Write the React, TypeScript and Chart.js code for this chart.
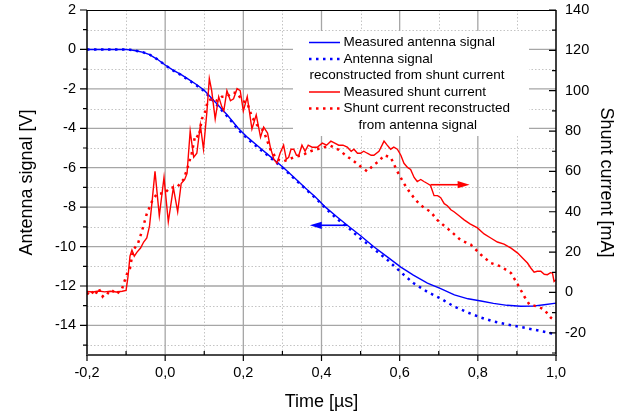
import React, { useEffect, useRef } from "react";
import { Chart, registerables } from "chart.js";

Chart.register(...registerables);

// ---------- Data ----------
const antennaT = [
  -0.2, -0.15, -0.1, -0.09, -0.075, -0.056, -0.04, -0.02, 0, 0.02, 0.04, 0.06, 0.08, 0.1, 0.12, 0.14,
  0.16, 0.187, 0.21, 0.24, 0.27, 0.303, 0.33, 0.36, 0.385, 0.41, 0.44, 0.466, 0.5, 0.533, 0.57, 0.603,
  0.635, 0.671, 0.705, 0.74, 0.775, 0.808, 0.84, 0.875, 0.91, 0.94, 0.97, 1.0,
];
const antennaMeasured = [
  0, 0, 0, -0.02, -0.07, -0.15, -0.26, -0.5, -0.79, -1.05, -1.27, -1.52, -1.78, -2.07, -2.5, -2.92,
  -3.35, -4.0, -4.45, -4.95, -5.45, -6.0, -6.5, -7.05, -7.5, -8.0, -8.5, -8.92, -9.45, -10.0, -10.55, -11.04,
  -11.45, -11.85, -12.13, -12.45, -12.65, -12.76, -12.88, -12.98, -13.03, -13.02, -12.95, -12.87,
];
const antennaReconstructed = [
  0, 0, 0, -0.02, -0.07, -0.15, -0.26, -0.5, -0.8, -1.06, -1.29, -1.55, -1.82, -2.12, -2.55, -2.98,
  -3.42, -4.07, -4.52, -5.02, -5.5, -6.05, -6.55, -7.1, -7.55, -8.05, -8.6, -9.0, -9.6, -10.1, -10.7, -11.3,
  -11.85, -12.3, -12.64, -13.05, -13.35, -13.6, -13.8, -13.95, -14.08, -14.2, -14.32, -14.45,
];

const shuntMeasuredT = [
  -0.2, -0.185, -0.17, -0.155, -0.14, -0.125, -0.11, -0.1, -0.095, -0.09, -0.085, -0.079, -0.072, -0.063,
  -0.055, -0.047, -0.04, -0.034, -0.026, -0.015, -0.003, 0.008, 0.021, 0.032, 0.041, 0.05, 0.056, 0.064,
  0.073, 0.081, 0.09, 0.098, 0.107, 0.113, 0.119, 0.128, 0.137, 0.145, 0.15, 0.158, 0.167, 0.175, 0.184,
  0.192, 0.2, 0.21, 0.222, 0.233, 0.244, 0.252, 0.262, 0.269, 0.278, 0.286, 0.294, 0.303, 0.31, 0.316,
  0.322, 0.329, 0.336, 0.342, 0.35, 0.358, 0.366, 0.376, 0.389, 0.402, 0.413, 0.424, 0.434, 0.444, 0.455,
  0.466, 0.476, 0.483, 0.492, 0.5, 0.508, 0.517, 0.527, 0.534, 0.547, 0.555, 0.56, 0.568, 0.577, 0.585,
  0.594, 0.603, 0.611, 0.62, 0.628, 0.637, 0.645, 0.654, 0.662, 0.671, 0.679, 0.688, 0.697, 0.705, 0.714,
  0.722, 0.731, 0.739, 0.752, 0.765, 0.78, 0.799, 0.816, 0.833, 0.85, 0.867, 0.885, 0.902, 0.915, 0.927,
  0.936, 0.944, 0.952, 0.961, 0.97, 0.978, 0.986, 0.991, 0.995, 1.0,
];
const shuntMeasured = [
  0.5, 0.2, 0.7, 0.3, 0.6, 0.2, 0.6, 1, 8, 18, 21, 18, 20, 22,
  25, 27, 33, 44, 60, 38, 57, 35, 52, 40, 54, 56, 59, 80,
  67, 69, 83, 71, 90, 106, 100, 86, 97, 92, 90, 100, 95, 96, 101,
  100, 90, 97, 81, 88, 77, 82, 79, 72, 66, 64, 69, 73, 66, 67,
  71, 71, 68, 68, 73, 70, 73, 72, 72, 74, 73, 75, 74, 73, 73,
  72, 70, 71, 69, 69, 70, 69, 68, 68, 70, 73, 75, 73, 71, 72,
  71, 68, 64, 62, 61, 57, 55, 56, 55, 54, 53, 48, 48, 47, 44,
  43, 41, 40, 38, 36, 34, 32, 29, 27, 25, 24, 22, 19.5, 17, 14.6,
  12, 10, 10.5, 10.5, 9, 8.8, 9.8, 9.6, 5.5, 6.3,
];

const shuntReconT = [
  -0.2, -0.19, -0.18, -0.17, -0.16, -0.15, -0.14, -0.13, -0.12, -0.11, -0.105, -0.098, -0.09, -0.082,
  -0.07, -0.06, -0.047, -0.034, -0.021, -0.003, 0.013, 0.03, 0.047, 0.056, 0.068, 0.077, 0.086, 0.094,
  0.103, 0.109, 0.12, 0.133, 0.145, 0.158, 0.171, 0.184, 0.197, 0.21, 0.222, 0.235, 0.252, 0.269, 0.286,
  0.303, 0.329, 0.35, 0.372, 0.406, 0.423, 0.444, 0.466, 0.483, 0.5, 0.517, 0.534, 0.547, 0.56, 0.577,
  0.594, 0.611, 0.628, 0.645, 0.662, 0.679, 0.696, 0.714, 0.73, 0.756, 0.782, 0.808, 0.833, 0.859, 0.885,
  0.902, 0.919, 0.932, 0.953, 0.97, 0.987, 1.0,
];
const shuntReconstructed = [
  -1, 1, -1.5, 2, -2, 0, -1, 1.5, 0, 2, 5, 9, 12, 21,
  24, 30, 39, 45, 49, 49, 52, 52, 56, 61, 69, 78, 77, 86,
  90, 95, 96, 95, 97, 97, 99, 99, 95, 94, 87, 83, 80, 71, 66,
  65, 67, 68, 70, 72, 72.7, 70.7, 67.4, 65, 62.4, 60, 63.3, 65, 68, 67,
  60, 54, 49, 45, 42, 40, 36, 33, 30.5, 26, 23.7, 18.7, 14.6, 12.9, 9.6,
  4, -2, -6, -7, -8.5, -12.6, -14.3,
];

// ---------- Axes ----------
const xTicks = [-0.2, 0, 0.2, 0.4, 0.6, 0.8, 1.0];
const xMinorTicks = [-0.1, 0.1, 0.3, 0.5, 0.7, 0.9];
const leftTicks = [2, 0, -2, -4, -6, -8, -10, -12, -14];
const leftMinorTicks = [1, -1, -3, -5, -7, -9, -11, -13, -15];
const rightTicks = [140, 120, 100, 80, 60, 40, 20, 0, -20];
const rightMinorTicks = [130, 110, 90, 70, 50, 30, 10, -10, -30];
const xRange = [-0.2, 1.0];
const leftRange = [-15.5, 2];
const rightRange = [-31, 140];

const legendItems = [
  { lines: ["Measured antenna signal"], color: "#0000ff", dotted: false },
  { lines: ["Antenna signal", "reconstructed from shunt current"], color: "#0000ff", dotted: true },
  { lines: ["Measured shunt current"], color: "#ff0000", dotted: false },
  { lines: ["Shunt current reconstructed", "from antenna signal"], color: "#ff0000", dotted: true },
];

// arrows in data units
const redArrow = { from: 0.679, to: 0.779, y: 53.4, axis: "yR", color: "#ff0000" };
const blueArrow = { from: 0.466, to: 0.37, y: -8.92, axis: "yL", color: "#0000ff" };

const FONT = "'Liberation Sans', Arial, sans-serif";

const fmtX = (v: number) => (Math.abs(v) < 1e-9 ? 0 : v).toFixed(1).replace(".", ",");

const pts = (xs: number[], ys: number[]) => xs.map((x, i) => ({ x, y: ys[i] }));

const decorPlugin = {
  id: "decor",
  beforeDatasetsDraw(chart: any) {
    const { ctx, chartArea: a, scales } = chart;
    const x = scales.x, yL = scales.yL;
    ctx.save();
    ctx.strokeStyle = "#c4c4c4";
    ctx.lineWidth = 1;
    ctx.setLineDash([1.5, 2]);
    ctx.beginPath();
    xMinorTicks.forEach((v) => {
      const px = Math.round(x.getPixelForValue(v)) + 0.5;
      ctx.moveTo(px, a.top);
      ctx.lineTo(px, a.bottom);
    });
    leftMinorTicks.forEach((v) => {
      const py = Math.round(yL.getPixelForValue(v)) + 0.5;
      if (py > a.bottom || py < a.top) return;
      ctx.moveTo(a.left, py);
      ctx.lineTo(a.right, py);
    });
    ctx.stroke();
    ctx.setLineDash([]);
    ctx.strokeStyle = "#a6a6a6";
    ctx.lineWidth = 1.3;
    ctx.beginPath();
    xTicks.forEach((v) => {
      const px = x.getPixelForValue(v);
      if (px <= a.left + 1 || px >= a.right - 1) return;
      ctx.moveTo(px, a.top);
      ctx.lineTo(px, a.bottom);
    });
    leftTicks.forEach((v) => {
      const py = yL.getPixelForValue(v);
      if (py <= a.top + 1 || py >= a.bottom - 1) return;
      ctx.moveTo(a.left, py);
      ctx.lineTo(a.right, py);
    });
    ctx.stroke();
    ctx.restore();
  },
  afterDatasetsDraw(chart: any) {
    const { ctx, chartArea: a, scales } = chart;
    const x = scales.x, yL = scales.yL, yR = scales.yR;
    ctx.save();
    ctx.strokeStyle = "#000";
    ctx.lineWidth = 1;
    ctx.beginPath();
    ctx.moveTo(a.left, a.top + 0.5);
    ctx.lineTo(a.right, a.top + 0.5);
    ctx.stroke();
    ctx.lineWidth = 1.5;
    ctx.beginPath();
    ctx.moveTo(a.left, a.top);
    ctx.lineTo(a.left, a.bottom);
    ctx.moveTo(a.right, a.top);
    ctx.lineTo(a.right, a.bottom);
    ctx.stroke();
    ctx.strokeStyle = "#4a4a4a";
    ctx.lineWidth = 2;
    ctx.beginPath();
    ctx.moveTo(a.left - 1, a.bottom);
    ctx.lineTo(a.right + 1, a.bottom);
    ctx.stroke();
    ctx.strokeStyle = "#000";
    ctx.lineWidth = 1.2;
    ctx.beginPath();
    leftTicks.forEach((v) => {
      const py = yL.getPixelForValue(v);
      ctx.moveTo(a.left, py);
      ctx.lineTo(a.left - 7, py);
    });
    leftMinorTicks.forEach((v) => {
      const py = yL.getPixelForValue(v);
      if (py > a.bottom) return;
      ctx.moveTo(a.left, py);
      ctx.lineTo(a.left - 4, py);
    });
    rightTicks.forEach((v) => {
      const py = yR.getPixelForValue(v);
      ctx.moveTo(a.right, py);
      ctx.lineTo(a.right - 7, py);
    });
    rightMinorTicks.forEach((v) => {
      const py = yR.getPixelForValue(v);
      if (py > a.bottom) return;
      ctx.moveTo(a.right, py);
      ctx.lineTo(a.right - 4, py);
    });
    xTicks.forEach((v) => {
      const px = x.getPixelForValue(v);
      ctx.moveTo(px, a.bottom);
      ctx.lineTo(px, a.bottom + 6);
    });
    xMinorTicks.forEach((v) => {
      const px = x.getPixelForValue(v);
      ctx.moveTo(px, a.bottom);
      ctx.lineTo(px, a.bottom - 4);
    });
    ctx.stroke();

    [redArrow, blueArrow].forEach((ar) => {
      const ys = scales[ar.axis];
      const x1 = x.getPixelForValue(ar.from);
      const x2 = x.getPixelForValue(ar.to);
      const py = ys.getPixelForValue(ar.y);
      const dir = Math.sign(x2 - x1);
      ctx.strokeStyle = ar.color;
      ctx.fillStyle = ar.color;
      ctx.lineWidth = 1.6;
      ctx.beginPath();
      ctx.moveTo(x1, py);
      ctx.lineTo(x2 - dir * 8, py);
      ctx.stroke();
      ctx.beginPath();
      ctx.moveTo(x2, py);
      ctx.lineTo(x2 - dir * 12, py - 3.6);
      ctx.lineTo(x2 - dir * 12, py + 3.6);
      ctx.closePath();
      ctx.fill();
    });

    const lx = 293, ly = 31, lw = 236, lh = 105;
    ctx.fillStyle = "#ffffff";
    ctx.fillRect(lx, ly, lw, lh);
    ctx.font = `13.5px ${FONT}`;
    ctx.textBaseline = "middle";
    ctx.textAlign = "left";
    const rowY = [42.5, 59, 75.5, 92, 108.5, 125];
    let r = 0;
    legendItems.forEach((it) => {
      const y0 = rowY[r];
      ctx.strokeStyle = it.color;
      ctx.lineWidth = it.dotted ? 2.5 : 1.5;
      ctx.setLineDash(it.dotted ? [2.5, 4.5] : []);
      ctx.beginPath();
      ctx.moveTo(309, y0);
      ctx.lineTo(340, y0);
      ctx.stroke();
      ctx.setLineDash([]);
      ctx.fillStyle = "#000";
      ctx.fillText(it.lines[0], 343.5, y0);
      r++;
      if (it.lines.length > 1) {
        const y1 = rowY[r];
        if (it.color === "#0000ff") ctx.fillText(it.lines[1], 309.5, y1);
        else ctx.fillText(it.lines[1], 358.5, y1);
        r++;
      }
    });
    ctx.restore();
  },
};

export default function App() {
  const ref = useRef<HTMLCanvasElement | null>(null);
  useEffect(() => {
    if (!ref.current) return;
    Chart.defaults.font.family = FONT;
    Chart.defaults.color = "#000";
    const solid = (color: string) => ({
      borderColor: color,
      backgroundColor: color,
      borderWidth: 1.4,
      pointRadius: 0,
      tension: 0,
      fill: false,
    });
    const dotted = (color: string) => ({
      borderColor: color,
      backgroundColor: color,
      borderWidth: 2.5,
      borderDash: [2.5, 4.5],
      borderCapStyle: "butt",
      pointRadius: 0,
      tension: 0,
      fill: false,
    });
    const noPad = (s: any) => {
      s.paddingTop = 0;
      s.paddingBottom = 0;
      s.paddingLeft = 0;
      s.paddingRight = 0;
    };
    const chart = new Chart(ref.current, {
      type: "line",
      data: {
        datasets: [
          { label: "Shunt current reconstructed from antenna signal", data: pts(shuntReconT, shuntReconstructed), yAxisID: "yR", ...dotted("#ff0000") } as any,
          { label: "Measured shunt current", data: pts(shuntMeasuredT, shuntMeasured), yAxisID: "yR", ...solid("#ff0000") } as any,
          { label: "Antenna signal reconstructed from shunt current", data: pts(antennaT, antennaReconstructed), yAxisID: "yL", ...dotted("#0000ff") } as any,
          { label: "Measured antenna signal", data: pts(antennaT, antennaMeasured), yAxisID: "yL", ...solid("#0000ff") } as any,
        ],
      },
      options: {
        responsive: false,
        animation: false,
        layout: { padding: { top: 10, left: 0, right: 0, bottom: 0 } },
        plugins: { legend: { display: false }, tooltip: { enabled: false } },
        scales: {
          x: {
            type: "linear",
            min: xRange[0],
            max: xRange[1],
            grid: { display: false, drawTicks: false, drawOnChartArea: false },
            border: { display: false },
            afterBuildTicks: (s: any) => { s.ticks = xTicks.map((value) => ({ value })); },
            afterFit: (s: any) => { s.height = 65; noPad(s); },
            ticks: { padding: 9, font: { size: 14.5 }, maxRotation: 0, autoSkip: false, callback: (v: any) => fmtX(Number(v)) },
            title: { display: true, text: "Time [µs]", font: { size: 18 }, padding: { top: 0, bottom: 7 } },
          },
          yL: {
            type: "linear",
            position: "left",
            min: leftRange[0],
            max: leftRange[1],
            grid: { display: false, drawTicks: false, drawOnChartArea: false },
            border: { display: false },
            afterBuildTicks: (s: any) => { s.ticks = leftTicks.map((value) => ({ value })); },
            afterFit: (s: any) => { s.width = 87; noPad(s); },
            ticks: { padding: 11, font: { size: 14.5 }, autoSkip: false, callback: (v: any) => String(v) },
            title: { display: true, text: "Antenna signal [V]", font: { size: 18 }, padding: { top: 16, bottom: 0 } },
          },
          yR: {
            type: "linear",
            position: "right",
            min: rightRange[0],
            max: rightRange[1],
            grid: { display: false, drawTicks: false, drawOnChartArea: false },
            border: { display: false },
            afterBuildTicks: (s: any) => { s.ticks = rightTicks.map((value) => ({ value })); },
            afterFit: (s: any) => { s.width = 72; noPad(s); },
            ticks: { padding: 9, font: { size: 14.5 }, autoSkip: false, callback: (v: any) => String(v) },
            title: { display: true, text: "Shunt current [mA]", font: { size: 18 }, padding: { top: 11, bottom: 0 } },
          },
        },
      } as any,
      plugins: [decorPlugin],
    });
    return () => chart.destroy();
  }, []);
  return (
    <div style={{ position: "fixed", left: 0, top: 0, width: 628, height: 420, background: "#fff" }}>
      <canvas ref={ref} width={628} height={420} style={{ display: "block" }} />
    </div>
  );
}
